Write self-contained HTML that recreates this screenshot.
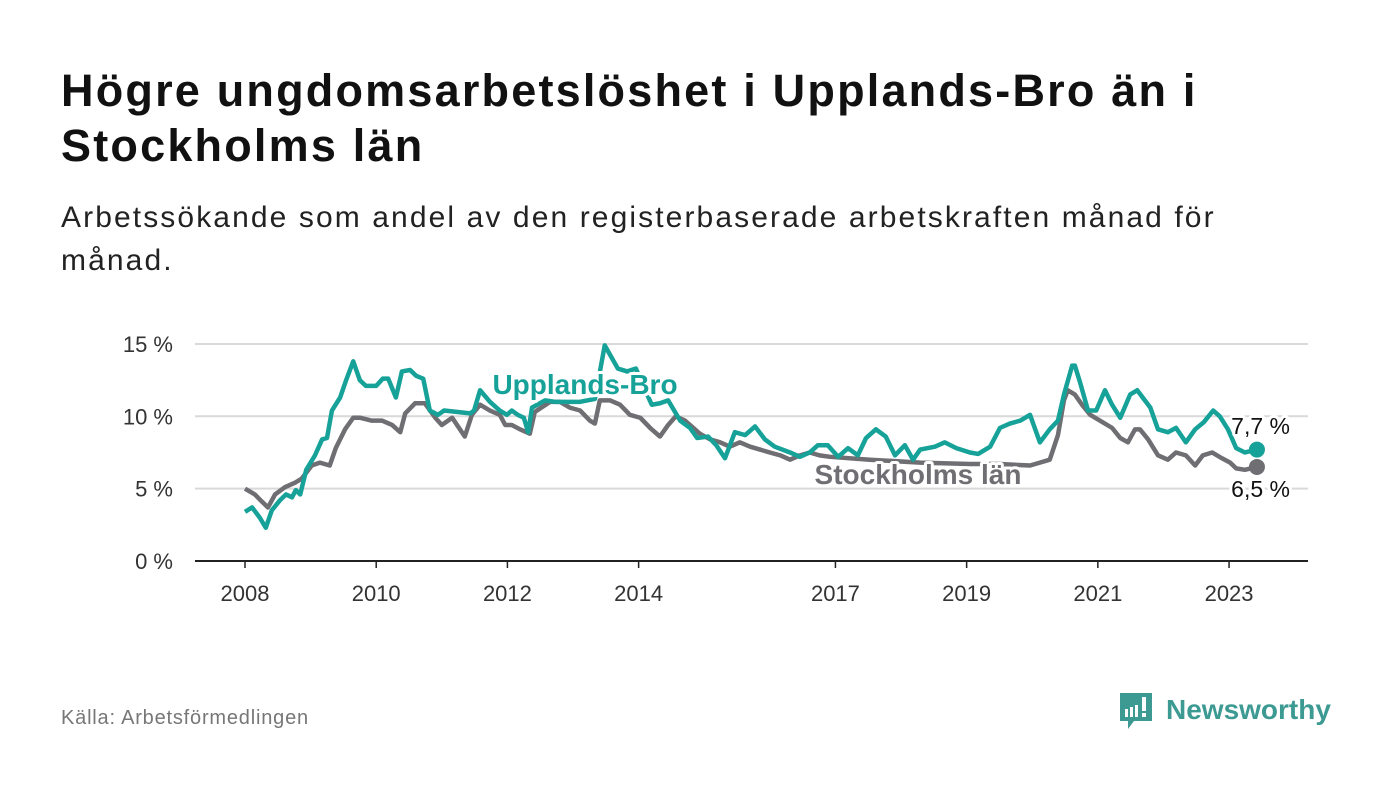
<!DOCTYPE html>
<html><head><meta charset="utf-8">
<style>
body{margin:0;width:1400px;height:794px;background:#fff;font-family:"Liberation Sans",sans-serif;overflow:hidden;position:relative}
h1{position:absolute;left:61px;top:63px;margin:0;font-size:45px;line-height:55px;font-weight:bold;color:#111;width:1320px;letter-spacing:2.2px}
.sub{position:absolute;left:61px;top:196px;margin:0;font-size:30px;line-height:43px;color:#222;width:1320px;letter-spacing:2.1px}
.src{position:absolute;left:61px;top:707px;font-size:20px;color:#777;letter-spacing:0.8px}
.logo{position:absolute;left:1118px;top:690px}
</style></head><body>
<h1>Högre ungdomsarbetslöshet i Upplands-Bro än i<br>Stockholms län</h1>
<p class="sub">Arbetssökande som andel av den registerbaserade arbetskraften månad för<br>månad.</p>
<div class="src">Källa: Arbetsförmedlingen</div>
<svg class="logo" width="230" height="50">
<path d="M2 3h32v28H16l-6 8v-8H2z" fill="#3d9a93"/>
<rect x="7" y="19" width="3" height="8" fill="#fff"/><rect x="12" y="17" width="3" height="10" fill="#fff"/><rect x="17" y="15" width="3" height="12" fill="#fff"/><rect x="24" y="7" width="4" height="14" fill="#fff"/><rect x="24" y="23" width="4" height="4" fill="#fff"/>
<text x="48" y="29" font-size="28" font-weight="bold" fill="#3d9a93" font-family="Liberation Sans, sans-serif">Newsworthy</text>
</svg>
<svg id="chart" width="1400" height="794" style="position:absolute;left:0;top:0"></svg>
<script>
const yTicks=[0,5,10,15];
const xTickYears=[2008,2010,2012,2014,2017,2019,2021,2023];
const upMonths=[0,1.3,2.7,3.8,4.9,6.4,7.5,8.6,9.3,10.1,11.2,12.8,14.1,15,15.9,17.4,18.5,19.8,21,22.1,24,25.2,26.2,27.6,28.7,30.2,31.3,32.6,33.8,35.3,36.4,41.2,41.9,43,44.8,46.6,47.9,48.8,49.9,51,51.8,52.5,54.9,56.7,58.5,61.3,64,65.8,68.2,69.9,71.5,73.2,74.4,75.9,77.4,79.6,81.4,82.7,84.7,86.2,87.8,89.6,91.5,93.3,95.1,96.9,99.7,101.5,103.3,104.8,106.6,108.5,110.3,112.1,113.6,115.4,117.2,118.9,120.7,122.2,123.5,126.2,128,130.1,132.6,134.1,136.3,138.1,139.9,141.8,143.6,145.4,147.2,148.7,149.8,151.3,151.8,152.7,154.2,155.7,157.3,158.6,160.1,161.9,163.2,165.6,167,168.8,170.3,172.1,173.8,175.4,177.1,178.3,179.8,181.3,182.9,185.1];
const upValues=[3.4,3.7,3.0,2.3,3.5,4.2,4.6,4.4,4.9,4.6,6.3,7.3,8.4,8.5,10.4,11.3,12.5,13.8,12.5,12.1,12.1,12.6,12.6,11.3,13.1,13.2,12.8,12.6,10.4,10.1,10.4,10.2,10.4,11.8,11.0,10.4,10.1,10.4,10.1,9.9,8.9,10.6,11.1,11.0,11.0,11.0,11.2,14.9,13.3,13.1,13.3,11.8,10.8,10.9,11.1,9.7,9.2,8.5,8.6,8.0,7.1,8.9,8.7,9.3,8.4,7.9,7.5,7.2,7.5,8.0,8.0,7.2,7.8,7.3,8.5,9.1,8.6,7.3,8.0,7.0,7.7,7.9,8.2,7.8,7.5,7.4,7.9,9.2,9.5,9.7,10.1,8.2,9.1,9.7,11.5,13.5,13.5,12.4,10.4,10.4,11.8,10.8,9.9,11.5,11.8,10.6,9.1,8.9,9.2,8.2,9.1,9.6,10.4,10.0,9.1,7.8,7.5,7.7];
const stMonths=[0,1.8,3.1,4.2,5.5,7.3,9.1,10.4,12.2,13.7,15.5,16.6,18.3,19.8,21,23.2,25.1,26.9,28.4,29.3,31.1,32.9,34.8,36,37.9,40.2,41.5,43,44.8,46.6,47.6,48.8,50.3,52.1,53,55.8,57.6,59.4,61.3,63.1,64,64.9,66.8,68.6,70.4,72.3,74.1,75.9,77.4,78.8,80.5,83.2,85.1,86.9,88.7,90.5,92.4,94.2,96,97.9,99.7,101.5,103.3,105.1,107,114.3,123.5,132.6,138.1,143.6,145.4,147.2,148.7,149.8,150.5,151.8,153.1,154.6,156.4,158.6,160.1,161.5,162.8,163.7,165.2,167,168.8,170.3,172.1,173.8,175.2,176.9,178.7,180.2,181.3,182.9,185.1];
const stValues=[5.0,4.6,4.1,3.7,4.6,5.1,5.4,5.7,6.6,6.8,6.6,7.8,9.1,9.9,9.9,9.7,9.7,9.4,8.9,10.2,10.9,10.9,9.9,9.4,9.9,8.6,10.1,10.8,10.4,10.1,9.4,9.4,9.1,8.8,10.3,11.0,11.0,10.6,10.4,9.7,9.5,11.1,11.1,10.8,10.1,9.9,9.2,8.6,9.4,10.0,9.7,8.8,8.4,8.2,7.9,8.2,7.9,7.7,7.5,7.3,7.0,7.3,7.5,7.3,7.2,7.0,6.8,6.7,6.7,6.6,6.8,7.0,8.7,11.1,11.8,11.5,10.8,10.1,9.7,9.2,8.5,8.2,9.1,9.1,8.4,7.3,7.0,7.5,7.3,6.6,7.3,7.5,7.1,6.8,6.4,6.3,6.5];
const upLast="7,7 %", stLast="6,5 %";
const NS="http://www.w3.org/2000/svg", svg=document.getElementById('chart');
const xMonth=m=>245+m*5.467;
const xYear=y=>xMonth((y-2008)*12);
const yVal=v=>561-v*14.47;
function mk(t,a){const e=document.createElementNS(NS,t);for(const k in a)e.setAttribute(k,a[k]);svg.appendChild(e);return e;}
yTicks.forEach(t=>{
  const l=mk('line',{x1:195,x2:1308,y1:yVal(t),y2:yVal(t),stroke:t===0?'#222':'#d9d9d9','stroke-width':2});
  
  
  const tx=mk('text',{x:173,y:yVal(t)+8,'text-anchor':'end','font-size':22,fill:'#333'});
  tx.textContent=t+' %';
  
  
});
xTickYears.forEach(y=>{
  const x=xYear(y);
  const l=mk('line',{x1:x,x2:x,y1:561,y2:568,stroke:'#222','stroke-width':1.5});
  
  
  const tx=mk('text',{x:x,y:601,'text-anchor':'middle','font-size':22,fill:'#333'});
  tx.textContent=y;
  
  
});
function line(ms,vs,col,name){
  const p=mk('polyline',{points:ms.map((m,i)=>xMonth(m)+','+yVal(vs[i])).join(' '),fill:'none',stroke:col,'stroke-width':4.5,'stroke-linejoin':'round'});
  
  
  const c=mk('circle',{cx:xMonth(ms[ms.length-1]),cy:yVal(vs[vs.length-1]),r:8,fill:col});
  
  
}
line(stMonths,stValues,'#6f6e73','stockholm-line');
line(upMonths,upValues,'#16a298','upplands-bro-line');
function lab(x,y,t,col,anchor,bold,name){
  const e=mk('text',{x:x,y:y,'text-anchor':anchor,'font-size':bold?28:23,'font-weight':bold?'bold':'normal',fill:col,stroke:'#fff','stroke-width':6,'paint-order':'stroke','stroke-linejoin':'round'});
  e.textContent=t;
  
  
}
lab(585,394,'Upplands-Bro','#16a298','middle',true,'upplands-bro-label');
lab(918,484,'Stockholms län','#6f6e73','middle',true,'stockholm-label');
lab(1290,434,upLast,'#111','end',false,'upplands-bro-last-value');
lab(1290,497,stLast,'#111','end',false,'stockholm-last-value');
</script>
</body></html>
